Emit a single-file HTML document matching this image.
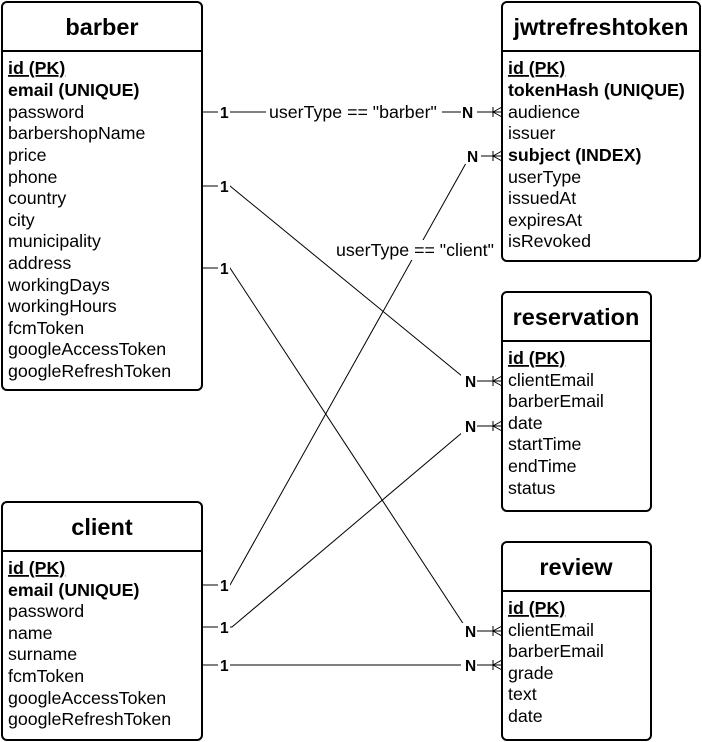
<!DOCTYPE html>
<html><head><meta charset="utf-8"><style>
html,body{margin:0;padding:0;background:#fff}
svg{display:block}
text{font-family:"Liberation Sans",Arial,sans-serif;font-size:17.8px;fill:#000}
.t{font-size:23.5px;font-weight:bold}
.b{font-weight:bold}
.u{text-decoration:underline}
.l{font-size:15.5px;font-weight:bold}
</style></head><body>
<svg width="702" height="742" viewBox="0 0 702 742" xmlns="http://www.w3.org/2000/svg">
<g fill="none" stroke="#000" stroke-width="1">
<path d="M202,112 H502"/>
<path d="M202,585 H230 L470,156 H502"/>
<path d="M202,186 H230 L468,381 H502"/>
<path d="M202,627 H232 L470,426 H502"/>
<path d="M202,268 H230 L468,631 H502"/>
<path d="M202,665 H502"/>
</g>
<g fill="none" stroke="#000" stroke-width="1">
<path d="M493,107 V117 M493,112 L502,107 M493,112 L502,117"/>
<path d="M493,151 V161 M493,156 L502,151 M493,156 L502,161"/>
<path d="M493,376 V386 M493,381 L502,376 M493,381 L502,386"/>
<path d="M493,421 V431 M493,426 L502,421 M493,426 L502,431"/>
<path d="M493,626 V636 M493,631 L502,626 M493,631 L502,636"/>
<path d="M493,660 V670 M493,665 L502,660 M493,665 L502,670"/>
</g>
<g fill="#fff">
<rect x="218" y="104" width="12" height="16"/><rect x="461" y="104" width="16" height="16"/>
<rect x="218" y="178" width="12" height="16"/><rect x="218" y="260" width="12" height="16"/>
<rect x="218" y="577" width="12" height="16"/><rect x="218" y="619" width="12" height="16"/><rect x="218" y="657" width="12" height="16"/>
<rect x="465" y="148" width="16" height="16"/><rect x="461" y="373" width="16" height="16"/><rect x="461" y="418" width="16" height="16"/>
<rect x="461" y="623" width="16" height="16"/><rect x="461" y="657" width="16" height="16"/>
<rect x="266" y="102" width="176" height="20"/><rect x="334" y="240" width="166" height="20"/>
</g>
<text class="l" x="220" y="118">1</text><text class="l" x="462" y="118">N</text>
<text class="l" x="220" y="192">1</text><text class="l" x="220" y="274">1</text>
<text class="l" x="220" y="591">1</text><text class="l" x="220" y="633">1</text><text class="l" x="220" y="671">1</text>
<text class="l" x="467" y="162">N</text><text class="l" x="465" y="387">N</text><text class="l" x="465" y="432">N</text>
<text class="l" x="465" y="637">N</text><text class="l" x="465" y="671">N</text>
<text x="269" y="118">userType == "barber"</text>
<text x="336" y="256">userType == "client"</text>

<g fill="#fff" stroke="#000" stroke-width="2">
<rect x="2" y="2" width="200" height="388" rx="5"/><line x1="2" y1="51" x2="202" y2="51"/>
<rect x="502" y="2" width="198" height="259" rx="5"/><line x1="502" y1="51" x2="700" y2="51"/>
<rect x="502" y="292" width="149" height="219" rx="5"/><line x1="502" y1="341" x2="651" y2="341"/>
<rect x="502" y="542" width="149" height="198" rx="5"/><line x1="502" y1="591" x2="651" y2="591"/>
<rect x="2" y="502" width="200" height="238" rx="5"/><line x1="2" y1="551" x2="202" y2="551"/>
</g>
<text class="t" x="102" y="35" text-anchor="middle">barber</text>
<text class="t" x="601" y="35" text-anchor="middle">jwtrefreshtoken</text>
<text class="t" x="576" y="325" text-anchor="middle">reservation</text>
<text class="t" x="576" y="575" text-anchor="middle">review</text>
<text class="t" x="102" y="535" text-anchor="middle">client</text>

<g>
<text x="8" y="74" class="b u">id (PK)</text>
<text x="8" y="96" class="b">email (UNIQUE)</text>
<text x="8" y="118">password</text>
<text x="8" y="139">barbershopName</text>
<text x="8" y="161">price</text>
<text x="8" y="183">phone</text>
<text x="8" y="204">country</text>
<text x="8" y="226">city</text>
<text x="8" y="247">municipality</text>
<text x="8" y="269">address</text>
<text x="8" y="291">workingDays</text>
<text x="8" y="312">workingHours</text>
<text x="8" y="334">fcmToken</text>
<text x="8" y="355">googleAccessToken</text>
<text x="8" y="377">googleRefreshToken</text>
</g>
<g>
<text x="508" y="74" class="b u">id (PK)</text>
<text x="508" y="96" class="b">tokenHash (UNIQUE)</text>
<text x="508" y="118">audience</text>
<text x="508" y="139">issuer</text>
<text x="508" y="161" class="b">subject (INDEX)</text>
<text x="508" y="183">userType</text>
<text x="508" y="204">issuedAt</text>
<text x="508" y="226">expiresAt</text>
<text x="508" y="247">isRevoked</text>
</g>
<g>
<text x="508" y="364" class="b u">id (PK)</text>
<text x="508" y="386">clientEmail</text>
<text x="508" y="407">barberEmail</text>
<text x="508" y="429">date</text>
<text x="508" y="450">startTime</text>
<text x="508" y="472">endTime</text>
<text x="508" y="494">status</text>
</g>
<g>
<text x="508" y="614" class="b u">id (PK)</text>
<text x="508" y="636">clientEmail</text>
<text x="508" y="657">barberEmail</text>
<text x="508" y="679">grade</text>
<text x="508" y="700">text</text>
<text x="508" y="722">date</text>
</g>
<g>
<text x="8" y="574" class="b u">id (PK)</text>
<text x="8" y="596" class="b">email (UNIQUE)</text>
<text x="8" y="617">password</text>
<text x="8" y="639">name</text>
<text x="8" y="660">surname</text>
<text x="8" y="682">fcmToken</text>
<text x="8" y="704">googleAccessToken</text>
<text x="8" y="725">googleRefreshToken</text>
</g>
</svg>
</body></html>
